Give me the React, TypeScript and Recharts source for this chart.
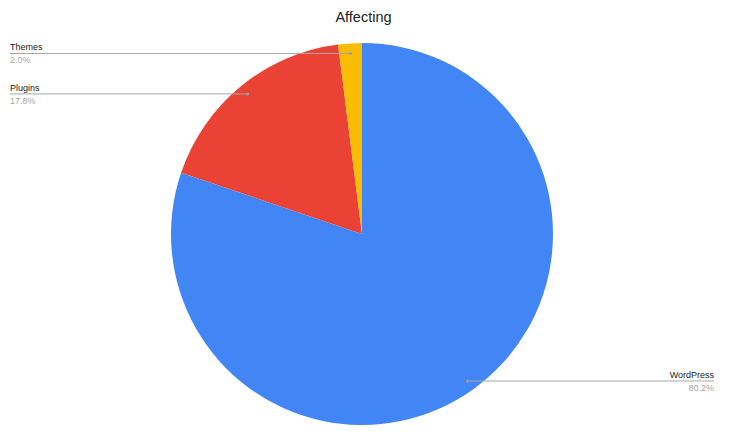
import React from 'react';
import { PieChart, Pie, Cell } from 'recharts';

const categories = ['WordPress', 'Plugins', 'Themes'];
const values = [80.2, 17.8, 2.0];
const colors = ['#4285F4', '#EA4335', '#FBBC04'];
const title = 'Affecting';

const data = categories.map((name, i) => ({ name, value: values[i] }));

const RADIAN = Math.PI / 180;
const FONT = '"Liberation Sans", Arial, sans-serif';

const renderLabel = (props: any) => {
  const { cx, cy, midAngle, outerRadius, name, value, index } = props;
  const r = outerRadius * 0.947;
  const x = cx + r * Math.cos(-midAngle * RADIAN);
  const y = cy + r * Math.sin(-midAngle * RADIAN);
  const right = x > cx;
  const endX = right ? 714 : 10;
  return (
    <g key={`lbl-${index}`}>
      <line x1={x} y1={y} x2={endX} y2={y} stroke="#a6a6a6" strokeWidth={1} />
      <circle cx={x} cy={y} r={1.5} fill="#9e9e9e" />
      <text x={endX} y={y - 3} textAnchor={right ? 'end' : 'start'} fontSize={9} fill="#222" fontFamily={FONT}>
        {name}
      </text>
      <text x={endX} y={y + 10} textAnchor={right ? 'end' : 'start'} fontSize={9} fill="#a6a6a6" fontFamily={FONT}>
        {`${value.toFixed(1)}%`}
      </text>
    </g>
  );
};

export default function App() {
  return (
    <div style={{ position: 'absolute', left: 0, top: 0, width: 737, height: 448, background: '#fff' }}>
      <div
        style={{
          position: 'absolute',
          left: 0,
          width: 727,
          top: 9,
          textAlign: 'center',
          fontFamily: FONT,
          fontSize: 14.5,
          color: '#222',
        }}
      >
        {title}
      </div>
      <PieChart width={737} height={448} margin={{ top: 0, right: 0, bottom: 0, left: 0 }}>
        <Pie
          data={data}
          dataKey="value"
          nameKey="name"
          cx={362}
          cy={234}
          outerRadius={191}
          startAngle={90}
          endAngle={-270}
          stroke="none"
          label={renderLabel}
          labelLine={false}
          isAnimationActive={false}
        >
          {data.map((d, i) => (
            <Cell key={d.name} fill={colors[i]} />
          ))}
        </Pie>
      </PieChart>
    </div>
  );
}
